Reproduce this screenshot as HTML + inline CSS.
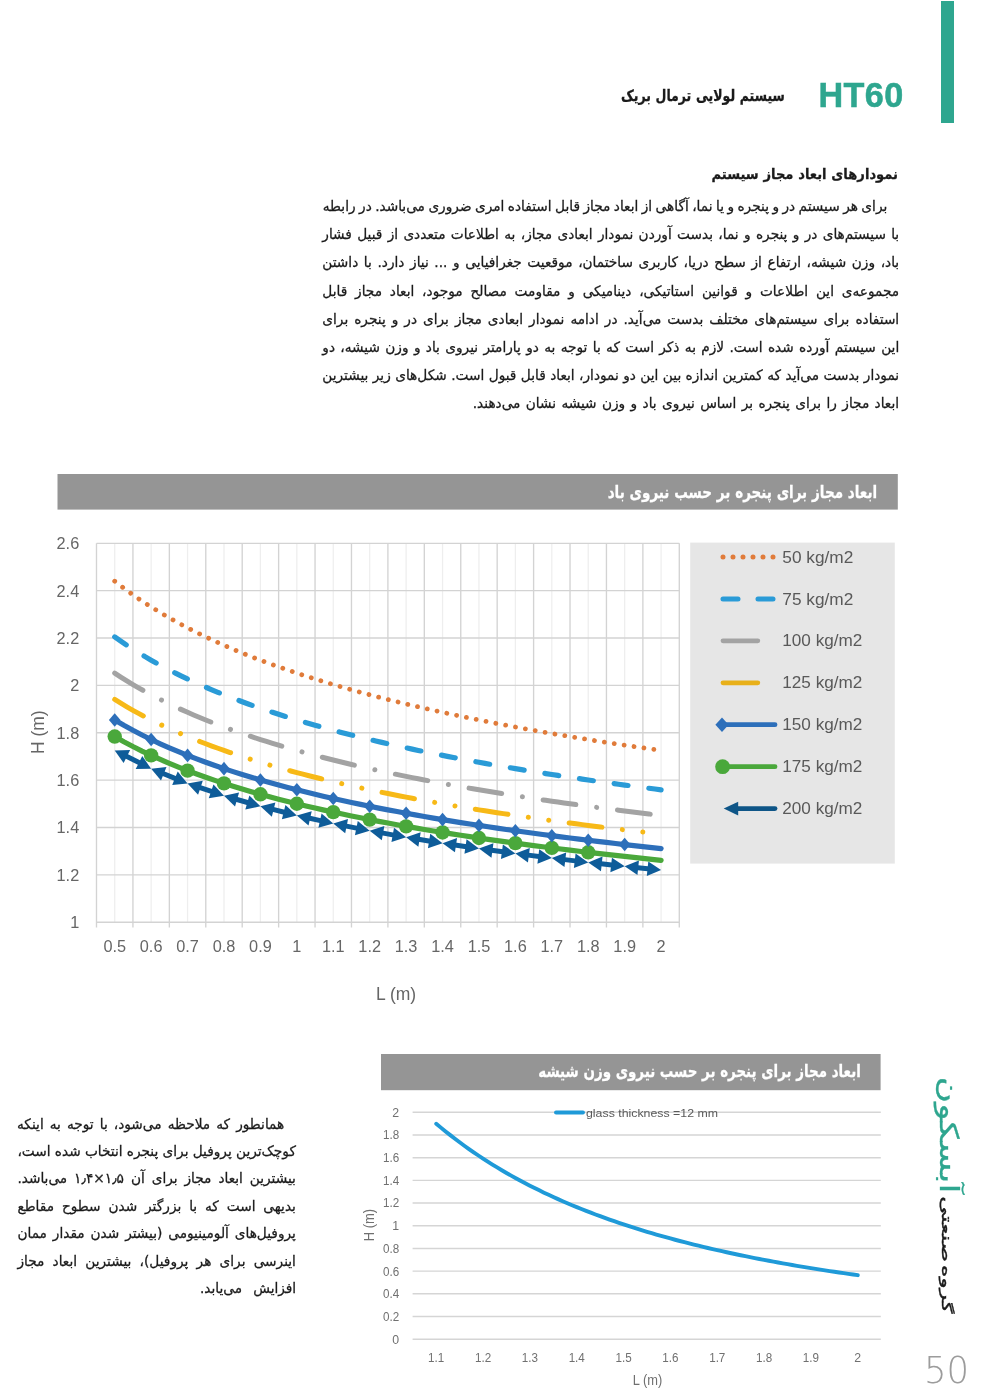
<!DOCTYPE html>
<html lang="fa">
<head>
<meta charset="utf-8">
<title>HT60</title>
<style>
html,body{margin:0;padding:0;background:#fff;}
body{width:1000px;height:1398px;position:relative;overflow:hidden;font-family:"Liberation Sans","DejaVu Sans",sans-serif;}
.ln{position:absolute;direction:rtl;white-space:nowrap;line-height:28px;height:28px;
 font-family:"DejaVu Sans","Liberation Sans",sans-serif;text-align:justify;text-align-last:justify;transform-origin:100% 50%;-webkit-text-stroke:0.3px currentColor;}
.abs{position:absolute;}
svg text{font-family:"Liberation Sans","DejaVu Sans",sans-serif;}
.p{word-spacing:-0.09em;}
</style>
</head>
<body>

<div class="abs" style="left:941px;top:1px;width:13px;height:121.5px;background:#2ea68f;"></div>
<div class="abs" style="left:818.5px;top:75.3px;letter-spacing:0.4px;-webkit-text-stroke:0.5px currentColor;width:90px;height:40px;line-height:40px;font-family:'Liberation Sans',sans-serif;font-weight:bold;font-size:34.2px;color:#2ea68f;white-space:nowrap;">HT60</div>
<div class="ln " style="left:579.55px;top:81.50px;width:204.75px;font-size:15.6px;transform:scale(0.8,1.0);transform-origin:100% 19.40px;color:#1a1a1a;font-weight:bold;">سیستم لولایی ترمال بریک</div>
<div class="ln " style="left:676.28px;top:159.60px;width:222.02px;font-size:15.6px;transform:scale(0.84,0.92);transform-origin:100% 19.40px;color:#1a1a1a;font-weight:bold;">نمودارهای ابعاد مجاز سیستم</div>
<div class="ln p" style="left:252.73px;top:191.97px;width:634.27px;font-size:15.4px;transform:scale(0.89,0.92);transform-origin:100% 19.33px;color:#1a1a1a;">برای هر سیستم در و پنجره و یا نما، آگاهی از ابعاد مجاز قابل استفاده امری ضروری می‌باشد. در رابطه</div>
<div class="ln p" style="left:251.20px;top:220.17px;width:648.20px;font-size:15.4px;transform:scale(0.89,0.92);transform-origin:100% 19.33px;color:#1a1a1a;">با سیستم‌های در و پنجره و نما، بدست آوردن نمودار ابعادی مجاز، به اطلاعات متعددی از قبیل فشار</div>
<div class="ln p" style="left:251.20px;top:248.37px;width:648.20px;font-size:15.4px;transform:scale(0.89,0.92);transform-origin:100% 19.33px;color:#1a1a1a;">باد، وزن شیشه، ارتفاع از سطح دریا، کاربری ساختمان، موقعیت جغرافیایی و ... نیاز دارد. با داشتن</div>
<div class="ln p" style="left:251.20px;top:276.57px;width:648.20px;font-size:15.4px;transform:scale(0.89,0.92);transform-origin:100% 19.33px;color:#1a1a1a;">مجموعه‌ی این اطلاعات و قوانین استاتیکی، دینامیکی و مقاومت مصالح موجود، ابعاد مجاز قابل</div>
<div class="ln p" style="left:251.20px;top:304.77px;width:648.20px;font-size:15.4px;transform:scale(0.89,0.92);transform-origin:100% 19.33px;color:#1a1a1a;">استفاده برای سیستم‌های مختلف بدست می‌آید. در ادامه نمودار ابعادی مجاز برای در و پنجره برای</div>
<div class="ln p" style="left:251.20px;top:332.97px;width:648.20px;font-size:15.4px;transform:scale(0.89,0.92);transform-origin:100% 19.33px;color:#1a1a1a;">این سیستم آورده شده است. لازم به ذکر است که با توجه به دو پارامتر نیروی باد و وزن شیشه، دو</div>
<div class="ln p" style="left:251.20px;top:361.17px;width:648.20px;font-size:15.4px;transform:scale(0.89,0.92);transform-origin:100% 19.33px;color:#1a1a1a;">نمودار بدست می‌آید که کمترین اندازه بین این دو نمودار، ابعاد قابل قبول است. شکل‌های زیر بیشترین</div>
<div class="ln p" style="left:420.30px;top:389.37px;width:479.10px;font-size:15.4px;transform:scale(0.89,0.92);transform-origin:100% 19.33px;color:#1a1a1a;">ابعاد مجاز را برای پنجره بر اساس نیروی باد و وزن شیشه نشان می‌دهند.</div>
<div class="ln p" style="left:-15.72px;top:1109.57px;width:300.22px;font-size:15.4px;transform:scale(0.89,0.92);transform-origin:100% 19.33px;color:#1a1a1a;">همانطور که ملاحظه می‌شود، با توجه به اینکه</div>
<div class="ln p" style="left:-17.12px;top:1137.02px;width:312.92px;font-size:15.4px;transform:scale(0.89,0.92);transform-origin:100% 19.33px;color:#1a1a1a;">کوچک‌ترین پروفیل برای پنجره انتخاب شده است،</div>
<div class="ln p" style="left:-17.12px;top:1164.47px;width:312.92px;font-size:15.4px;transform:scale(0.89,0.92);transform-origin:100% 19.33px;color:#1a1a1a;">بیشترین ابعاد مجاز برای آن <span dir="ltr" style="unicode-bidi:isolate">۱٫۴×۱٫۵</span> می‌باشد.</div>
<div class="ln p" style="left:-17.12px;top:1191.92px;width:312.92px;font-size:15.4px;transform:scale(0.89,0.92);transform-origin:100% 19.33px;color:#1a1a1a;">بدیهی است که با بزرگتر شدن سطوح مقاطع</div>
<div class="ln p" style="left:-17.12px;top:1219.37px;width:312.92px;font-size:15.4px;transform:scale(0.89,0.92);transform-origin:100% 19.33px;color:#1a1a1a;">پروفیل‌های آلومینیومی (بیشتر شدن مقدار ممان</div>
<div class="ln p" style="left:-17.12px;top:1246.82px;width:312.92px;font-size:15.4px;transform:scale(0.89,0.92);transform-origin:100% 19.33px;color:#1a1a1a;">اینرسی برای هر پروفیل)، بیشترین ابعاد مجاز</div>
<div class="ln p" style="left:187.60px;top:1274.27px;width:108.20px;font-size:15.4px;transform:scale(0.89,0.92);transform-origin:100% 19.33px;color:#1a1a1a;">افزایش می‌یابد.</div>
<svg class="abs" style="left:0;top:0" width="1000" height="1398" viewBox="0 0 1000 1398">
<line x1="114.71" y1="543.3" x2="114.71" y2="922.2" stroke="#eeeeee" stroke-width="1.25"/>
<line x1="151.14" y1="543.3" x2="151.14" y2="922.2" stroke="#eeeeee" stroke-width="1.25"/>
<line x1="187.56" y1="543.3" x2="187.56" y2="922.2" stroke="#eeeeee" stroke-width="1.25"/>
<line x1="223.99" y1="543.3" x2="223.99" y2="922.2" stroke="#eeeeee" stroke-width="1.25"/>
<line x1="260.41" y1="543.3" x2="260.41" y2="922.2" stroke="#eeeeee" stroke-width="1.25"/>
<line x1="296.84" y1="543.3" x2="296.84" y2="922.2" stroke="#eeeeee" stroke-width="1.25"/>
<line x1="333.26" y1="543.3" x2="333.26" y2="922.2" stroke="#eeeeee" stroke-width="1.25"/>
<line x1="369.69" y1="543.3" x2="369.69" y2="922.2" stroke="#eeeeee" stroke-width="1.25"/>
<line x1="406.11" y1="543.3" x2="406.11" y2="922.2" stroke="#eeeeee" stroke-width="1.25"/>
<line x1="442.54" y1="543.3" x2="442.54" y2="922.2" stroke="#eeeeee" stroke-width="1.25"/>
<line x1="478.96" y1="543.3" x2="478.96" y2="922.2" stroke="#eeeeee" stroke-width="1.25"/>
<line x1="515.39" y1="543.3" x2="515.39" y2="922.2" stroke="#eeeeee" stroke-width="1.25"/>
<line x1="551.81" y1="543.3" x2="551.81" y2="922.2" stroke="#eeeeee" stroke-width="1.25"/>
<line x1="588.24" y1="543.3" x2="588.24" y2="922.2" stroke="#eeeeee" stroke-width="1.25"/>
<line x1="624.66" y1="543.3" x2="624.66" y2="922.2" stroke="#eeeeee" stroke-width="1.25"/>
<line x1="661.09" y1="543.3" x2="661.09" y2="922.2" stroke="#eeeeee" stroke-width="1.25"/>
<line x1="96.50" y1="543.3" x2="96.50" y2="927.4000000000001" stroke="#d3d3d3" stroke-width="1.35"/>
<line x1="132.93" y1="543.3" x2="132.93" y2="927.4000000000001" stroke="#d3d3d3" stroke-width="1.35"/>
<line x1="169.35" y1="543.3" x2="169.35" y2="927.4000000000001" stroke="#d3d3d3" stroke-width="1.35"/>
<line x1="205.77" y1="543.3" x2="205.77" y2="927.4000000000001" stroke="#d3d3d3" stroke-width="1.35"/>
<line x1="242.20" y1="543.3" x2="242.20" y2="927.4000000000001" stroke="#d3d3d3" stroke-width="1.35"/>
<line x1="278.62" y1="543.3" x2="278.62" y2="927.4000000000001" stroke="#d3d3d3" stroke-width="1.35"/>
<line x1="315.05" y1="543.3" x2="315.05" y2="927.4000000000001" stroke="#d3d3d3" stroke-width="1.35"/>
<line x1="351.47" y1="543.3" x2="351.47" y2="927.4000000000001" stroke="#d3d3d3" stroke-width="1.35"/>
<line x1="387.90" y1="543.3" x2="387.90" y2="927.4000000000001" stroke="#d3d3d3" stroke-width="1.35"/>
<line x1="424.32" y1="543.3" x2="424.32" y2="927.4000000000001" stroke="#d3d3d3" stroke-width="1.35"/>
<line x1="460.75" y1="543.3" x2="460.75" y2="927.4000000000001" stroke="#d3d3d3" stroke-width="1.35"/>
<line x1="497.17" y1="543.3" x2="497.17" y2="927.4000000000001" stroke="#d3d3d3" stroke-width="1.35"/>
<line x1="533.60" y1="543.3" x2="533.60" y2="927.4000000000001" stroke="#d3d3d3" stroke-width="1.35"/>
<line x1="570.02" y1="543.3" x2="570.02" y2="927.4000000000001" stroke="#d3d3d3" stroke-width="1.35"/>
<line x1="606.45" y1="543.3" x2="606.45" y2="927.4000000000001" stroke="#d3d3d3" stroke-width="1.35"/>
<line x1="642.88" y1="543.3" x2="642.88" y2="927.4000000000001" stroke="#d3d3d3" stroke-width="1.35"/>
<line x1="679.30" y1="543.3" x2="679.30" y2="927.4000000000001" stroke="#d3d3d3" stroke-width="1.35"/>
<line x1="96.5" y1="543.30" x2="679.3" y2="543.30" stroke="#d3d3d3" stroke-width="1.35"/>
<line x1="96.5" y1="590.66" x2="679.3" y2="590.66" stroke="#d3d3d3" stroke-width="1.35"/>
<line x1="96.5" y1="638.02" x2="679.3" y2="638.02" stroke="#d3d3d3" stroke-width="1.35"/>
<line x1="96.5" y1="685.39" x2="679.3" y2="685.39" stroke="#d3d3d3" stroke-width="1.35"/>
<line x1="96.5" y1="732.75" x2="679.3" y2="732.75" stroke="#d3d3d3" stroke-width="1.35"/>
<line x1="96.5" y1="780.11" x2="679.3" y2="780.11" stroke="#d3d3d3" stroke-width="1.35"/>
<line x1="96.5" y1="827.48" x2="679.3" y2="827.48" stroke="#d3d3d3" stroke-width="1.35"/>
<line x1="96.5" y1="874.84" x2="679.3" y2="874.84" stroke="#d3d3d3" stroke-width="1.35"/>
<line x1="96.5" y1="922.20" x2="679.3" y2="922.20" stroke="#d3d3d3" stroke-width="1.35"/>
<text x="79.2" y="549.20" text-anchor="end" font-size="16.3" fill="#666">2.6</text>
<text x="79.2" y="596.56" text-anchor="end" font-size="16.3" fill="#666">2.4</text>
<text x="79.2" y="643.92" text-anchor="end" font-size="16.3" fill="#666">2.2</text>
<text x="79.2" y="691.29" text-anchor="end" font-size="16.3" fill="#666">2</text>
<text x="79.2" y="738.65" text-anchor="end" font-size="16.3" fill="#666">1.8</text>
<text x="79.2" y="786.01" text-anchor="end" font-size="16.3" fill="#666">1.6</text>
<text x="79.2" y="833.38" text-anchor="end" font-size="16.3" fill="#666">1.4</text>
<text x="79.2" y="880.74" text-anchor="end" font-size="16.3" fill="#666">1.2</text>
<text x="79.2" y="928.10" text-anchor="end" font-size="16.3" fill="#666">1</text>
<text x="114.71" y="952" text-anchor="middle" font-size="16.3" fill="#666">0.5</text>
<text x="151.14" y="952" text-anchor="middle" font-size="16.3" fill="#666">0.6</text>
<text x="187.56" y="952" text-anchor="middle" font-size="16.3" fill="#666">0.7</text>
<text x="223.99" y="952" text-anchor="middle" font-size="16.3" fill="#666">0.8</text>
<text x="260.41" y="952" text-anchor="middle" font-size="16.3" fill="#666">0.9</text>
<text x="296.84" y="952" text-anchor="middle" font-size="16.3" fill="#666">1</text>
<text x="333.26" y="952" text-anchor="middle" font-size="16.3" fill="#666">1.1</text>
<text x="369.69" y="952" text-anchor="middle" font-size="16.3" fill="#666">1.2</text>
<text x="406.11" y="952" text-anchor="middle" font-size="16.3" fill="#666">1.3</text>
<text x="442.54" y="952" text-anchor="middle" font-size="16.3" fill="#666">1.4</text>
<text x="478.96" y="952" text-anchor="middle" font-size="16.3" fill="#666">1.5</text>
<text x="515.39" y="952" text-anchor="middle" font-size="16.3" fill="#666">1.6</text>
<text x="551.81" y="952" text-anchor="middle" font-size="16.3" fill="#666">1.7</text>
<text x="588.24" y="952" text-anchor="middle" font-size="16.3" fill="#666">1.8</text>
<text x="624.66" y="952" text-anchor="middle" font-size="16.3" fill="#666">1.9</text>
<text x="661.09" y="952" text-anchor="middle" font-size="16.3" fill="#666">2</text>
<text x="376" y="999.9" font-size="18" fill="#666" textLength="40.2" lengthAdjust="spacingAndGlyphs">L (m)</text>
<text transform="translate(43.6,754) rotate(-90)" font-size="18" fill="#666" textLength="43.6" lengthAdjust="spacingAndGlyphs">H (m)</text>
<path d="M114.71 581.19 L120.78 585.91 L126.85 590.44 L132.93 594.80 L139.00 598.99 L145.07 603.03 L151.14 606.94 L157.21 610.70 L163.28 614.35 L169.35 617.87 L175.42 621.29 L181.49 624.60 L187.56 627.81 L193.63 630.92 L199.70 633.95 L205.78 636.89 L211.85 639.75 L217.92 642.54 L223.99 645.25 L230.06 647.89 L236.13 650.46 L242.20 652.98 L248.27 655.43 L254.34 657.82 L260.41 660.16 L266.48 662.44 L272.55 664.67 L278.62 666.85 L284.70 668.99 L290.77 671.08 L296.84 673.12 L302.91 675.13 L308.98 677.09 L315.05 679.01 L321.12 680.90 L327.19 682.75 L333.26 684.56 L339.33 686.34 L345.40 688.09 L351.47 689.81 L357.55 691.49 L363.62 693.15 L369.69 694.77 L375.76 696.37 L381.83 697.94 L387.90 699.49 L393.97 701.01 L400.04 702.50 L406.11 703.97 L412.18 705.42 L418.25 706.84 L424.32 708.24 L430.40 709.62 L436.47 710.98 L442.54 712.32 L448.61 713.64 L454.68 714.94 L460.75 716.23 L466.82 717.49 L472.89 718.73 L478.96 719.96 L485.03 721.17 L491.10 722.37 L497.17 723.55 L503.25 724.71 L509.32 725.86 L515.39 726.99 L521.46 728.11 L527.53 729.21 L533.60 730.30 L539.67 731.38 L545.74 732.44 L551.81 733.49 L557.88 734.52 L563.95 735.55 L570.02 736.56 L576.10 737.56 L582.17 738.55 L588.24 739.53 L594.31 740.49 L600.38 741.45 L606.45 742.39 L612.52 743.32 L618.59 744.24 L624.66 745.16 L630.73 746.06 L636.80 746.95 L642.87 747.84 L648.95 748.71 L655.02 749.57 L661.09 750.43" fill="none" stroke="#e07b3a" stroke-width="4.8" stroke-linecap="round" stroke-dasharray="0.01 10"/>
<path d="M114.71 636.89 L120.78 641.15 L126.85 645.25 L132.93 649.18 L139.00 652.98 L145.07 656.63 L151.14 660.16 L157.21 663.56 L163.28 666.85 L169.35 670.04 L175.42 673.12 L181.49 676.11 L187.56 679.01 L193.63 681.83 L199.70 684.56 L205.78 687.22 L211.85 689.81 L217.92 692.32 L223.99 694.77 L230.06 697.16 L236.13 699.49 L242.20 701.76 L248.27 703.97 L254.34 706.13 L260.41 708.24 L266.48 710.31 L272.55 712.32 L278.62 714.30 L284.70 716.23 L290.77 718.11 L296.84 719.96 L302.91 721.77 L308.98 723.55 L315.05 725.29 L321.12 726.99 L327.19 728.66 L333.26 730.30 L339.33 731.91 L345.40 733.49 L351.47 735.04 L357.55 736.56 L363.62 738.06 L369.69 739.53 L375.76 740.97 L381.83 742.39 L387.90 743.78 L393.97 745.16 L400.04 746.51 L406.11 747.84 L412.18 749.14 L418.25 750.43 L424.32 751.70 L430.40 752.94 L436.47 754.17 L442.54 755.38 L448.61 756.58 L454.68 757.75 L460.75 758.91 L466.82 760.05 L472.89 761.18 L478.96 762.29 L485.03 763.38 L491.10 764.46 L497.17 765.52 L503.25 766.58 L509.32 767.61 L515.39 768.64 L521.46 769.65 L527.53 770.64 L533.60 771.63 L539.67 772.60 L545.74 773.56 L551.81 774.51 L557.88 775.44 L563.95 776.37 L570.02 777.28 L576.10 778.19 L582.17 779.08 L588.24 779.96 L594.31 780.84 L600.38 781.70 L606.45 782.55 L612.52 783.39 L618.59 784.23 L624.66 785.05 L630.73 785.87 L636.80 786.67 L642.87 787.47 L648.95 788.26 L655.02 789.04 L661.09 789.82" fill="none" stroke="#2a9bd7" stroke-width="5.2" stroke-linecap="round" stroke-dasharray="14 21"/>
<path d="M114.71 673.12 L120.78 677.09 L126.85 680.90 L132.93 684.56 L139.00 688.09 L145.07 691.49 L151.14 694.77 L157.21 697.94 L163.28 701.01 L169.35 703.97 L175.42 706.84 L181.49 709.62 L187.56 712.32 L193.63 714.94 L199.70 717.49 L205.78 719.96 L211.85 722.37 L217.92 724.71 L223.99 726.99 L230.06 729.21 L236.13 731.38 L242.20 733.49 L248.27 735.55 L254.34 737.56 L260.41 739.53 L266.48 741.45 L272.55 743.32 L278.62 745.16 L284.70 746.95 L290.77 748.71 L296.84 750.43 L302.91 752.12 L308.98 753.77 L315.05 755.38 L321.12 756.97 L327.19 758.53 L333.26 760.05 L339.33 761.55 L345.40 763.02 L351.47 764.46 L357.55 765.88 L363.62 767.27 L369.69 768.64 L375.76 769.98 L381.83 771.30 L387.90 772.60 L393.97 773.88 L400.04 775.13 L406.11 776.37 L412.18 777.59 L418.25 778.78 L424.32 779.96 L430.40 781.12 L436.47 782.27 L442.54 783.39 L448.61 784.50 L454.68 785.60 L460.75 786.67 L466.82 787.74 L472.89 788.78 L478.96 789.82 L485.03 790.84 L491.10 791.84 L497.17 792.83 L503.25 793.81 L509.32 794.77 L515.39 795.73 L521.46 796.67 L527.53 797.59 L533.60 798.51 L539.67 799.41 L545.74 800.31 L551.81 801.19 L557.88 802.06 L563.95 802.92 L570.02 803.77 L576.10 804.61 L582.17 805.45 L588.24 806.27 L594.31 807.08 L600.38 807.88 L606.45 808.68 L612.52 809.46 L618.59 810.24 L624.66 811.00 L630.73 811.76 L636.80 812.51 L642.87 813.26 L648.95 813.99 L655.02 814.72 L661.09 815.44" fill="none" stroke="#a3a3a3" stroke-width="5" stroke-linecap="round" stroke-dasharray="33 21 0.01 21"/>
<path d="M114.71 699.49 L120.78 703.24 L126.85 706.84 L132.93 710.31 L139.00 713.64 L145.07 716.86 L151.14 719.96 L157.21 722.96 L163.28 725.86 L169.35 728.66 L175.42 731.38 L181.49 734.01 L187.56 736.56 L193.63 739.04 L199.70 741.45 L205.78 743.78 L211.85 746.06 L217.92 748.27 L223.99 750.43 L230.06 752.53 L236.13 754.58 L242.20 756.58 L248.27 758.53 L254.34 760.43 L260.41 762.29 L266.48 764.10 L272.55 765.88 L278.62 767.61 L284.70 769.31 L290.77 770.97 L296.84 772.60 L302.91 774.19 L308.98 775.75 L315.05 777.28 L321.12 778.78 L327.19 780.25 L333.26 781.70 L339.33 783.11 L345.40 784.50 L351.47 785.87 L357.55 787.21 L363.62 788.52 L369.69 789.82 L375.76 791.09 L381.83 792.34 L387.90 793.57 L393.97 794.77 L400.04 795.96 L406.11 797.13 L412.18 798.28 L418.25 799.41 L424.32 800.53 L430.40 801.63 L436.47 802.71 L442.54 803.77 L448.61 804.82 L454.68 805.86 L460.75 806.88 L466.82 807.88 L472.89 808.87 L478.96 809.85 L485.03 810.81 L491.10 811.76 L497.17 812.70 L503.25 813.62 L509.32 814.54 L515.39 815.44 L521.46 816.33 L527.53 817.20 L533.60 818.07 L539.67 818.93 L545.74 819.77 L551.81 820.61 L557.88 821.43 L563.95 822.24 L570.02 823.05 L576.10 823.84 L582.17 824.63 L588.24 825.41 L594.31 826.17 L600.38 826.93 L606.45 827.68 L612.52 828.43 L618.59 829.16 L624.66 829.89 L630.73 830.60 L636.80 831.31 L642.87 832.02 L648.95 832.71 L655.02 833.40 L661.09 834.08" fill="none" stroke="#f7b917" stroke-width="5" stroke-linecap="round" stroke-dasharray="33 20.6 0.01 20.6 0.01 20.6"/>
<line x1="124.44" y1="755.29" x2="141.41" y2="763.77" stroke="#0e5c99" stroke-width="5"/>
<polygon points="114.71,750.43 123.61,763.04 130.14,749.98" fill="#0e5c99"/>
<polygon points="151.14,768.64 135.71,769.09 142.24,756.03" fill="#0e5c99"/>
<line x1="161.22" y1="772.72" x2="177.48" y2="779.31" stroke="#0e5c99" stroke-width="5"/>
<polygon points="151.14,768.64 161.00,780.51 166.48,766.98" fill="#0e5c99"/>
<polygon points="187.56,783.39 172.22,785.05 177.70,771.52" fill="#0e5c99"/>
<line x1="197.87" y1="786.88" x2="213.68" y2="792.24" stroke="#0e5c99" stroke-width="5"/>
<polygon points="187.56,783.39 198.10,794.67 202.79,780.84" fill="#0e5c99"/>
<polygon points="223.99,795.73 208.76,798.28 213.45,784.45" fill="#0e5c99"/>
<line x1="234.44" y1="798.75" x2="249.96" y2="803.24" stroke="#0e5c99" stroke-width="5"/>
<polygon points="223.99,795.73 235.02,806.52 239.08,792.49" fill="#0e5c99"/>
<polygon points="260.41,806.27 245.32,809.50 249.38,795.47" fill="#0e5c99"/>
<line x1="270.96" y1="808.92" x2="286.29" y2="812.78" stroke="#0e5c99" stroke-width="5"/>
<polygon points="260.41,806.27 271.82,816.67 275.38,802.51" fill="#0e5c99"/>
<polygon points="296.84,815.44 281.87,819.20 285.43,805.04" fill="#0e5c99"/>
<line x1="307.46" y1="817.80" x2="322.64" y2="821.17" stroke="#0e5c99" stroke-width="5"/>
<polygon points="296.84,815.44 308.53,825.51 311.70,811.26" fill="#0e5c99"/>
<polygon points="333.26,823.53 318.40,827.70 321.57,813.45" fill="#0e5c99"/>
<line x1="343.93" y1="825.64" x2="359.02" y2="828.63" stroke="#0e5c99" stroke-width="5"/>
<polygon points="333.26,823.53 345.18,833.33 348.02,819.01" fill="#0e5c99"/>
<polygon points="369.69,830.75 354.93,835.26 357.77,820.94" fill="#0e5c99"/>
<line x1="380.40" y1="832.66" x2="395.40" y2="835.34" stroke="#0e5c99" stroke-width="5"/>
<polygon points="369.69,830.75 381.79,840.32 384.36,825.95" fill="#0e5c99"/>
<polygon points="406.11,837.25 391.44,842.05 394.01,827.67" fill="#0e5c99"/>
<line x1="416.85" y1="838.99" x2="431.80" y2="841.41" stroke="#0e5c99" stroke-width="5"/>
<polygon points="406.11,837.25 418.37,846.63 420.71,832.22" fill="#0e5c99"/>
<polygon points="442.54,843.16 427.94,848.18 430.28,833.77" fill="#0e5c99"/>
<line x1="453.30" y1="844.75" x2="468.20" y2="846.96" stroke="#0e5c99" stroke-width="5"/>
<polygon points="442.54,843.16 454.92,852.37 457.06,837.93" fill="#0e5c99"/>
<polygon points="478.96,848.56 464.44,853.78 466.58,839.34" fill="#0e5c99"/>
<line x1="489.74" y1="850.03" x2="504.61" y2="852.06" stroke="#0e5c99" stroke-width="5"/>
<polygon points="478.96,848.56 491.45,857.63 493.42,843.16" fill="#0e5c99"/>
<polygon points="515.39,853.53 500.93,858.92 502.90,844.45" fill="#0e5c99"/>
<line x1="526.18" y1="854.89" x2="541.02" y2="856.76" stroke="#0e5c99" stroke-width="5"/>
<polygon points="515.39,853.53 527.97,862.47 529.79,847.99" fill="#0e5c99"/>
<polygon points="551.81,858.12 537.41,863.66 539.23,849.18" fill="#0e5c99"/>
<line x1="562.62" y1="859.39" x2="577.43" y2="861.12" stroke="#0e5c99" stroke-width="5"/>
<polygon points="551.81,858.12 564.47,866.95 566.17,852.45" fill="#0e5c99"/>
<polygon points="588.24,862.39 573.88,868.06 575.58,853.56" fill="#0e5c99"/>
<line x1="599.05" y1="863.57" x2="613.85" y2="865.19" stroke="#0e5c99" stroke-width="5"/>
<polygon points="588.24,862.39 600.96,871.13 602.55,856.61" fill="#0e5c99"/>
<polygon points="624.66,866.37 610.35,872.15 611.94,857.64" fill="#0e5c99"/>
<line x1="635.49" y1="867.48" x2="650.26" y2="868.99" stroke="#0e5c99" stroke-width="5"/>
<polygon points="624.66,866.37 637.45,875.02 638.94,860.50" fill="#0e5c99"/>
<polygon points="661.09,870.10 646.81,875.98 648.30,861.45" fill="#0e5c99"/>
<path d="M114.71 736.56 L123.82 741.68 L132.93 746.51 L142.03 751.07 L151.14 755.38 L160.24 759.48 L169.35 763.38 L178.46 767.10 L187.56 770.64 L196.67 774.03 L205.78 777.28 L214.88 780.40 L223.99 783.39 L233.09 786.27 L242.20 789.04 L251.31 791.72 L260.41 794.29 L269.52 796.78 L278.62 799.19 L287.73 801.52 L296.84 803.77 L305.94 805.96 L315.05 808.08 L324.16 810.14 L333.26 812.14 L342.37 814.08 L351.47 815.97 L360.58 817.81 L369.69 819.60 L378.79 821.35 L387.90 823.05 L397.01 824.71 L406.11 826.33 L415.22 827.91 L424.32 829.45 L433.43 830.96 L442.54 832.43 L451.64 833.88 L460.75 835.29 L469.86 836.67 L478.96 838.02 L488.07 839.34 L497.17 840.64 L506.28 841.91 L515.39 843.16 L524.49 844.38 L533.60 845.58 L542.71 846.75 L551.81 847.91 L560.92 849.04 L570.02 850.15 L579.13 851.25 L588.24 852.32 L597.34 853.38 L606.45 854.41 L615.56 855.43 L624.66 856.44 L633.77 857.43 L642.87 858.40 L651.98 859.35 L661.09 860.29" fill="none" stroke="#4aa83b" stroke-width="5.2" stroke-linecap="round" stroke-linejoin="round"/>
<circle cx="114.71" cy="736.56" r="7.2" fill="#4aa83b"/>
<circle cx="151.14" cy="755.38" r="7.2" fill="#4aa83b"/>
<circle cx="187.56" cy="770.64" r="7.2" fill="#4aa83b"/>
<circle cx="223.99" cy="783.39" r="7.2" fill="#4aa83b"/>
<circle cx="260.41" cy="794.29" r="7.2" fill="#4aa83b"/>
<circle cx="296.84" cy="803.77" r="7.2" fill="#4aa83b"/>
<circle cx="333.26" cy="812.14" r="7.2" fill="#4aa83b"/>
<circle cx="369.69" cy="819.60" r="7.2" fill="#4aa83b"/>
<circle cx="406.11" cy="826.33" r="7.2" fill="#4aa83b"/>
<circle cx="442.54" cy="832.43" r="7.2" fill="#4aa83b"/>
<circle cx="478.96" cy="838.02" r="7.2" fill="#4aa83b"/>
<circle cx="515.39" cy="843.16" r="7.2" fill="#4aa83b"/>
<circle cx="551.81" cy="847.91" r="7.2" fill="#4aa83b"/>
<circle cx="588.24" cy="852.32" r="7.2" fill="#4aa83b"/>
<path d="M114.71 719.96 L123.82 725.29 L132.93 730.30 L142.03 735.04 L151.14 739.53 L160.24 743.78 L169.35 747.84 L178.46 751.70 L187.56 755.38 L196.67 758.91 L205.78 762.29 L214.88 765.52 L223.99 768.64 L233.09 771.63 L242.20 774.51 L251.31 777.28 L260.41 779.96 L269.52 782.55 L278.62 785.05 L287.73 787.47 L296.84 789.82 L305.94 792.09 L315.05 794.29 L324.16 796.43 L333.26 798.51 L342.37 800.53 L351.47 802.49 L360.58 804.41 L369.69 806.27 L378.79 808.08 L387.90 809.85 L397.01 811.57 L406.11 813.26 L415.22 814.90 L424.32 816.50 L433.43 818.07 L442.54 819.60 L451.64 821.10 L460.75 822.57 L469.86 824.00 L478.96 825.41 L488.07 826.78 L497.17 828.13 L506.28 829.45 L515.39 830.75 L524.49 832.02 L533.60 833.26 L542.71 834.48 L551.81 835.68 L560.92 836.86 L570.02 838.02 L579.13 839.15 L588.24 840.27 L597.34 841.37 L606.45 842.45 L615.56 843.51 L624.66 844.55 L633.77 845.58 L642.87 846.59 L651.98 847.58 L661.09 848.56" fill="none" stroke="#2d6fba" stroke-width="5.2" stroke-linecap="round" stroke-linejoin="round"/>
<polygon points="108.91,719.96 114.71,713.16 120.51,719.96 114.71,726.76" fill="#2d6fba"/>
<polygon points="145.34,739.53 151.14,732.73 156.94,739.53 151.14,746.33" fill="#2d6fba"/>
<polygon points="181.76,755.38 187.56,748.58 193.36,755.38 187.56,762.18" fill="#2d6fba"/>
<polygon points="218.19,768.64 223.99,761.84 229.79,768.64 223.99,775.44" fill="#2d6fba"/>
<polygon points="254.61,779.96 260.41,773.16 266.21,779.96 260.41,786.76" fill="#2d6fba"/>
<polygon points="291.04,789.82 296.84,783.02 302.64,789.82 296.84,796.62" fill="#2d6fba"/>
<polygon points="327.46,798.51 333.26,791.71 339.06,798.51 333.26,805.31" fill="#2d6fba"/>
<polygon points="363.89,806.27 369.69,799.47 375.49,806.27 369.69,813.07" fill="#2d6fba"/>
<polygon points="400.31,813.26 406.11,806.46 411.91,813.26 406.11,820.06" fill="#2d6fba"/>
<polygon points="436.74,819.60 442.54,812.80 448.34,819.60 442.54,826.40" fill="#2d6fba"/>
<polygon points="473.16,825.41 478.96,818.61 484.76,825.41 478.96,832.21" fill="#2d6fba"/>
<polygon points="509.59,830.75 515.39,823.95 521.19,830.75 515.39,837.55" fill="#2d6fba"/>
<polygon points="546.01,835.68 551.81,828.88 557.61,835.68 551.81,842.48" fill="#2d6fba"/>
<polygon points="582.44,840.27 588.24,833.47 594.04,840.27 588.24,847.07" fill="#2d6fba"/>
<polygon points="618.86,844.55 624.66,837.75 630.46,844.55 624.66,851.35" fill="#2d6fba"/>
<rect x="690.2" y="542.6" width="204.6" height="321" fill="#e6e6e6"/>
<text x="782.3" y="562.60" font-size="15.8" fill="#595959" textLength="71" lengthAdjust="spacingAndGlyphs">50 kg/m2</text>
<line x1="723" y1="557.00" x2="773.5" y2="557.00" stroke="#e07b3a" stroke-width="5" stroke-linecap="round" stroke-dasharray="0.01 9.99"/>
<text x="782.3" y="604.53" font-size="15.8" fill="#595959" textLength="71" lengthAdjust="spacingAndGlyphs">75 kg/m2</text>
<line x1="723" y1="598.93" x2="773" y2="598.93" stroke="#2a9bd7" stroke-width="5" stroke-linecap="round" stroke-dasharray="15 20"/>
<text x="782.3" y="646.46" font-size="15.8" fill="#595959" textLength="80" lengthAdjust="spacingAndGlyphs">100 kg/m2</text>
<line x1="723" y1="640.86" x2="757.8" y2="640.86" stroke="#a3a3a3" stroke-width="4.8" stroke-linecap="round"/>
<text x="782.3" y="688.39" font-size="15.8" fill="#595959" textLength="80" lengthAdjust="spacingAndGlyphs">125 kg/m2</text>
<line x1="723" y1="682.79" x2="757.8" y2="682.79" stroke="#e8b01a" stroke-width="4.8" stroke-linecap="round"/>
<text x="782.3" y="730.32" font-size="15.8" fill="#595959" textLength="80" lengthAdjust="spacingAndGlyphs">150 kg/m2</text>
<line x1="722" y1="724.72" x2="775" y2="724.72" stroke="#2d6fba" stroke-width="4.8" stroke-linecap="round"/>
<polygon points="715.40,724.72 722,717.52 728.60,724.72 722,731.92" fill="#2d6fba"/>
<text x="782.3" y="772.25" font-size="15.8" fill="#595959" textLength="80" lengthAdjust="spacingAndGlyphs">175 kg/m2</text>
<line x1="722.6" y1="766.65" x2="775" y2="766.65" stroke="#4aa83b" stroke-width="4.8" stroke-linecap="round"/>
<circle cx="722.6" cy="766.65" r="7.4" fill="#4aa83b"/>
<text x="782.3" y="814.18" font-size="15.8" fill="#595959" textLength="80" lengthAdjust="spacingAndGlyphs">200 kg/m2</text>
<line x1="735" y1="808.58" x2="775" y2="808.58" stroke="#0e5587" stroke-width="4.8" stroke-linecap="round"/>
<polygon points="723.7,808.58 738.2,801.78 738.2,815.38" fill="#0e5587"/>
<rect x="57.5" y="474" width="840.3" height="35.6" fill="#959595"/>
<line x1="412.6" y1="1112.30" x2="880.8" y2="1112.30" stroke="#d5d5d5" stroke-width="1.4"/>
<line x1="412.6" y1="1134.99" x2="880.8" y2="1134.99" stroke="#d5d5d5" stroke-width="1.4"/>
<line x1="412.6" y1="1157.68" x2="880.8" y2="1157.68" stroke="#d5d5d5" stroke-width="1.4"/>
<line x1="412.6" y1="1180.37" x2="880.8" y2="1180.37" stroke="#d5d5d5" stroke-width="1.4"/>
<line x1="412.6" y1="1203.06" x2="880.8" y2="1203.06" stroke="#d5d5d5" stroke-width="1.4"/>
<line x1="412.6" y1="1225.75" x2="880.8" y2="1225.75" stroke="#d5d5d5" stroke-width="1.4"/>
<line x1="412.6" y1="1248.44" x2="880.8" y2="1248.44" stroke="#d5d5d5" stroke-width="1.4"/>
<line x1="412.6" y1="1271.13" x2="880.8" y2="1271.13" stroke="#d5d5d5" stroke-width="1.4"/>
<line x1="412.6" y1="1293.82" x2="880.8" y2="1293.82" stroke="#d5d5d5" stroke-width="1.4"/>
<line x1="412.6" y1="1316.51" x2="880.8" y2="1316.51" stroke="#d5d5d5" stroke-width="1.4"/>
<line x1="412.6" y1="1339.20" x2="880.8" y2="1339.20" stroke="#d5d5d5" stroke-width="1.4"/>
<text x="399.2" y="1116.70" text-anchor="end" font-size="12.3" fill="#707070">2</text>
<text x="399.2" y="1139.39" text-anchor="end" font-size="12.3" fill="#707070" textLength="16.2" lengthAdjust="spacingAndGlyphs">1.8</text>
<text x="399.2" y="1162.08" text-anchor="end" font-size="12.3" fill="#707070" textLength="16.2" lengthAdjust="spacingAndGlyphs">1.6</text>
<text x="399.2" y="1184.77" text-anchor="end" font-size="12.3" fill="#707070" textLength="16.2" lengthAdjust="spacingAndGlyphs">1.4</text>
<text x="399.2" y="1207.46" text-anchor="end" font-size="12.3" fill="#707070" textLength="16.2" lengthAdjust="spacingAndGlyphs">1.2</text>
<text x="399.2" y="1230.15" text-anchor="end" font-size="12.3" fill="#707070">1</text>
<text x="399.2" y="1252.84" text-anchor="end" font-size="12.3" fill="#707070" textLength="16.2" lengthAdjust="spacingAndGlyphs">0.8</text>
<text x="399.2" y="1275.53" text-anchor="end" font-size="12.3" fill="#707070" textLength="16.2" lengthAdjust="spacingAndGlyphs">0.6</text>
<text x="399.2" y="1298.22" text-anchor="end" font-size="12.3" fill="#707070" textLength="16.2" lengthAdjust="spacingAndGlyphs">0.4</text>
<text x="399.2" y="1320.91" text-anchor="end" font-size="12.3" fill="#707070" textLength="16.2" lengthAdjust="spacingAndGlyphs">0.2</text>
<text x="399.2" y="1343.60" text-anchor="end" font-size="12.3" fill="#707070">0</text>
<text x="436.22" y="1361.8" text-anchor="middle" font-size="12.3" fill="#707070" textLength="16.2" lengthAdjust="spacingAndGlyphs">1.1</text>
<text x="483.06" y="1361.8" text-anchor="middle" font-size="12.3" fill="#707070" textLength="16.2" lengthAdjust="spacingAndGlyphs">1.2</text>
<text x="529.90" y="1361.8" text-anchor="middle" font-size="12.3" fill="#707070" textLength="16.2" lengthAdjust="spacingAndGlyphs">1.3</text>
<text x="576.74" y="1361.8" text-anchor="middle" font-size="12.3" fill="#707070" textLength="16.2" lengthAdjust="spacingAndGlyphs">1.4</text>
<text x="623.58" y="1361.8" text-anchor="middle" font-size="12.3" fill="#707070" textLength="16.2" lengthAdjust="spacingAndGlyphs">1.5</text>
<text x="670.42" y="1361.8" text-anchor="middle" font-size="12.3" fill="#707070" textLength="16.2" lengthAdjust="spacingAndGlyphs">1.6</text>
<text x="717.26" y="1361.8" text-anchor="middle" font-size="12.3" fill="#707070" textLength="16.2" lengthAdjust="spacingAndGlyphs">1.7</text>
<text x="764.10" y="1361.8" text-anchor="middle" font-size="12.3" fill="#707070" textLength="16.2" lengthAdjust="spacingAndGlyphs">1.8</text>
<text x="810.94" y="1361.8" text-anchor="middle" font-size="12.3" fill="#707070" textLength="16.2" lengthAdjust="spacingAndGlyphs">1.9</text>
<text x="857.78" y="1361.8" text-anchor="middle" font-size="12.3" fill="#707070">2</text>
<text x="632.7" y="1384.5" font-size="14.5" fill="#707070" textLength="29.5" lengthAdjust="spacingAndGlyphs">L (m)</text>
<text transform="translate(374,1241.2) rotate(-90)" font-size="14.5" fill="#707070" textLength="32.4" lengthAdjust="spacingAndGlyphs">H (m)</text>
<path d="M436.22 1123.70 L440.90 1127.62 L445.59 1131.44 L450.27 1135.15 L454.96 1138.77 L459.64 1142.29 L464.32 1145.72 L469.01 1149.07 L473.69 1152.32 L478.38 1155.50 L483.06 1158.59 L487.74 1161.61 L492.43 1164.55 L497.11 1167.42 L501.80 1170.22 L506.48 1172.96 L511.16 1175.62 L515.85 1178.23 L520.53 1180.77 L525.22 1183.25 L529.90 1185.68 L534.58 1188.05 L539.27 1190.36 L543.95 1192.63 L548.64 1194.84 L553.32 1197.00 L558.00 1199.12 L562.69 1201.18 L567.37 1203.21 L572.06 1205.18 L576.74 1207.12 L581.42 1209.02 L586.11 1210.87 L590.79 1212.68 L595.48 1214.46 L600.16 1216.20 L604.84 1217.91 L609.53 1219.58 L614.21 1221.21 L618.90 1222.81 L623.58 1224.38 L628.26 1225.92 L632.95 1227.43 L637.63 1228.91 L642.32 1230.36 L647.00 1231.78 L651.68 1233.17 L656.37 1234.54 L661.05 1235.88 L665.74 1237.19 L670.42 1238.48 L675.10 1239.75 L679.79 1240.99 L684.47 1242.21 L689.16 1243.41 L693.84 1244.58 L698.52 1245.73 L703.21 1246.87 L707.89 1247.98 L712.58 1249.07 L717.26 1250.14 L721.94 1251.20 L726.63 1252.23 L731.31 1253.25 L736.00 1254.25 L740.68 1255.23 L745.36 1256.20 L750.05 1257.15 L754.73 1258.08 L759.42 1259.00 L764.10 1259.90 L768.78 1260.79 L773.47 1261.66 L778.15 1262.52 L782.84 1263.36 L787.52 1264.19 L792.20 1265.01 L796.89 1265.81 L801.57 1266.60 L806.26 1267.38 L810.94 1268.14 L815.62 1268.90 L820.31 1269.64 L824.99 1270.37 L829.68 1271.09 L834.36 1271.79 L839.04 1272.49 L843.73 1273.17 L848.41 1273.85 L853.10 1274.51 L857.78 1275.17" fill="none" stroke="#1f9ad8" stroke-width="3.9" stroke-linecap="round" stroke-linejoin="round"/>
<line x1="556" y1="1112.5" x2="583" y2="1112.5" stroke="#1f9ad8" stroke-width="3.9" stroke-linecap="round"/>
<text x="586" y="1116.6" font-size="11.4" fill="#595959" textLength="132" lengthAdjust="spacingAndGlyphs">glass thickness =12 mm</text>
<rect x="381" y="1054" width="499.6" height="36.2" fill="#959595"/>
</svg>
<div class="ln " style="left:507.82px;top:477.50px;width:369.18px;font-size:18.5px;transform:scale(0.73,0.92);transform-origin:100% 20.40px;color:#fff;font-weight:bold;">ابعاد مجاز برای پنجره بر حسب نیروی باد</div>
<div class="ln " style="left:415.67px;top:1057.40px;width:444.83px;font-size:18.5px;transform:scale(0.725,0.92);transform-origin:100% 20.40px;color:#fff;font-weight:bold;">ابعاد مجاز برای پنجره بر حسب نیروی وزن شیشه</div>
<div class="ln" style="left:949.5px;top:1134.5px;width:84.78px;margin-left:-42.39px;margin-top:-20px;height:40px;line-height:40px;font-size:26px;color:#2ea68f;transform:rotate(90deg) scale(1.38,1.0);transform-origin:50% 50%;">آبسکون</div>
<div class="ln" style="left:946px;top:1254.5px;width:80.90px;margin-left:-40.45px;margin-top:-20px;height:40px;line-height:40px;font-size:16.5px;color:#1a1a1a;transform:rotate(90deg) scale(1.44,0.86);transform-origin:50% 50%;word-spacing:-0.2em;-webkit-text-stroke:0.45px currentColor;">گروه صنعتی</div>
<div class="abs" style="left:923.5px;top:1349.3px;width:46px;height:44px;line-height:44px;font-family:'DejaVu Sans Light','DejaVu Sans','Liberation Sans',sans-serif;font-weight:200;font-size:36.6px;color:#9c9c9c;transform:scaleX(0.97);transform-origin:0 50%;white-space:nowrap;">50</div>
</body></html>
